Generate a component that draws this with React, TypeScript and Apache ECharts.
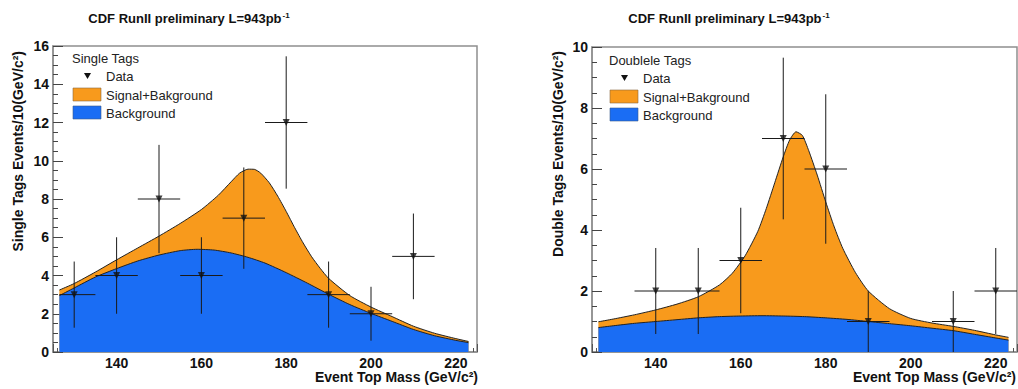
import React, { useEffect, useRef } from "react";
import * as echarts from "echarts";

// ---------- data ----------
const titleText = "CDF RunII preliminary L=943pb";
const xTitle = "Event Top Mass (GeV/c²)";
const leftYTitle = "Single Tags Events/10(GeV/c²)";
const rightYTitle = "Double Tags Events/10(GeV/c²)";
const leftLegendTitle = "Single Tags";
const rightLegendTitle = "Doublele Tags";
const legendNames = ["Data", "Signal+Bakground", "Background"];

const fitStart = 126.5;
const binHalfWidth = 5;

// Single tags: data points
const singleMass = [130, 140, 150, 160, 170, 180, 190, 200, 210];
const singleCounts = [3, 4, 8, 4, 7, 12, 3, 2, 5];
const singleErrLow = [1.27, 2, 5.17, 2, 4.35, 8.54, 1.27, 0.59, 2.76];
const singleErrHigh = [4.73, 6, 10.83, 6, 9.65, 15.46, 4.73, 3.41, 7.24];

// Single tags: curves
const singleSigBkgX = [126.5, 130, 135, 140, 145, 150, 155, 160, 164, 167, 169, 171, 172.5, 174, 176, 178, 180, 182, 184, 186, 188, 190, 195, 200, 205, 210, 215, 220, 223];
const singleSigBkgY = [3.24, 3.58, 4.18, 4.82, 5.44, 6.06, 6.72, 7.45, 8.2, 8.9, 9.35, 9.56, 9.55, 9.35, 8.85, 8.15, 7.35, 6.5, 5.7, 4.98, 4.38, 3.85, 2.95, 2.35, 1.85, 1.35, 0.98, 0.7, 0.55];
const singleBkgX = [126.5, 130, 135, 140, 145, 150, 155, 159, 163, 167, 171, 175, 180, 185, 190, 195, 200, 205, 210, 215, 220, 223];
const singleBkgY = [2.95, 3.35, 3.92, 4.36, 4.76, 5.07, 5.3, 5.37, 5.33, 5.18, 4.95, 4.65, 4.15, 3.6, 3.02, 2.48, 2.02, 1.6, 1.18, 0.85, 0.61, 0.49];

// Double tags: data points
const doubleMass = [140, 150, 160, 170, 180, 190, 210, 220];
const doubleCounts = [2, 2, 3, 7, 6, 1, 1, 2];
const doubleErrLow = [0.59, 0.59, 1.27, 4.35, 3.55, 0, 0, 0.59];
const doubleErrHigh = [3.41, 3.41, 4.73, 9.65, 8.45, 2, 2, 3.41];

// Double tags: curves
const doubleSigBkgX = [126.5, 130, 135, 140, 145, 150, 155, 158, 161, 164, 166, 168, 170, 171.5, 173, 174.5, 176, 178, 180, 182, 184, 187, 190, 195, 200, 205, 210, 215, 220, 223];
const doubleSigBkgY = [0.99, 1.08, 1.22, 1.38, 1.57, 1.81, 2.2, 2.58, 3.15, 3.95, 4.7, 5.55, 6.4, 6.95, 7.22, 7.1, 6.6, 5.8, 4.92, 4.1, 3.4, 2.6, 2.0, 1.42, 1.1, 0.95, 0.84, 0.71, 0.56, 0.48];
const doubleBkgX = [126.5, 130, 135, 140, 145, 150, 155, 160, 165, 170, 175, 180, 185, 190, 195, 200, 205, 210, 215, 220, 223];
const doubleBkgY = [0.8, 0.86, 0.94, 1.0, 1.06, 1.12, 1.16, 1.18, 1.19, 1.18, 1.16, 1.12, 1.07, 1.0, 0.93, 0.86, 0.78, 0.7, 0.58, 0.46, 0.39];

const xMin = 125;
const xMax = 225;
const leftYMax = 16;
const rightYMax = 10;

// ---------- styles ----------
const FONT = "'Liberation Sans', Arial, Helvetica, sans-serif";
const ORANGE = "#F89A1C";
const BLUE = "#1A6DF4";
const FRAME = "#8f8f8f";
const INK = "#111111";

const zip = (xs: number[], ys: number[]) => xs.map((x, i) => [x, ys[i]]);

function errorData(mass: number[], counts: number[], lo: number[], hi: number[]) {
  return mass.map((m, i) => [m, counts[i], lo[i], hi[i], Math.max(m - binHalfWidth, fitStart), m + binHalfWidth]);
}

function makeXAxis(gridIndex: number) {
  return {
    gridIndex,
    type: "value",
    min: xMin,
    max: xMax,
    splitLine: { show: false },
    axisLine: { show: true, onZero: false, lineStyle: { color: FRAME, width: 1.5 } },
    axisTick: { show: true, inside: true, length: 8, lineStyle: { color: "#555" } },
    minorTick: { show: true, splitNumber: 10, length: 4, lineStyle: { color: "#555" } },
    axisLabel: {
      showMinLabel: false,
      showMaxLabel: false,
      margin: 4,
      color: INK,
      fontSize: 14,
      fontWeight: "bold",
      fontFamily: FONT,
    },
  };
}

function makeYAxis(gridIndex: number, max: number) {
  return {
    gridIndex,
    type: "value",
    min: 0,
    max,
    interval: 2,
    splitLine: { show: false },
    axisLine: { show: true, onZero: false, lineStyle: { color: FRAME, width: 1.5 } },
    axisTick: { show: true, inside: true, length: 10, lineStyle: { color: "#444" } },
    minorTick: { show: true, splitNumber: 4, length: 5, lineStyle: { color: "#444" } },
    axisLabel: {
      margin: 4,
      color: INK,
      fontSize: 14,
      fontWeight: "bold",
      fontFamily: FONT,
    },
  };
}

function fillSeries(name: string, idx: number, data: number[][], color: string) {
  return {
    name,
    type: "line",
    xAxisIndex: idx,
    yAxisIndex: idx,
    data,
    smooth: 0.2,
    showSymbol: false,
    symbol: "none",
    lineStyle: { color: "#222", width: 1 },
    areaStyle: { color, opacity: 1 },
    z: 2,
  };
}

function errorSeries(idx: number, data: number[][]) {
  return {
    type: "custom",
    xAxisIndex: idx,
    yAxisIndex: idx,
    data,
    clip: true,
    z: 3,
    encode: { x: 0, y: 1 },
    renderItem: (params: any, api: any) => {
      const x = api.value(0);
      const y = api.value(1);
      const pLo = api.coord([x, api.value(2)]);
      const pHi = api.coord([x, api.value(3)]);
      const pL = api.coord([api.value(4), y]);
      const pR = api.coord([api.value(5), y]);
      const style = { stroke: "#1a1a1a", lineWidth: 1 };
      return {
        type: "group",
        children: [
          { type: "line", shape: { x1: pLo[0], y1: pLo[1], x2: pHi[0], y2: pHi[1] }, style },
          { type: "line", shape: { x1: pL[0], y1: pL[1], x2: pR[0], y2: pR[1] }, style },
        ],
      };
    },
  };
}

function markerSeries(idx: number, data: number[][]) {
  return {
    name: "Data",
    type: "scatter",
    xAxisIndex: idx,
    yAxisIndex: idx,
    data,
    symbol: "triangle",
    symbolRotate: 180,
    symbolSize: 7,
    itemStyle: { color: INK },
    z: 4,
  };
}

function titleGraphic(cx: number) {
  return {
    type: "text",
    x: cx,
    y: 18,
    style: {
      text: `{a|${titleText}}{b|-1}`,
      align: "center",
      verticalAlign: "middle",
      fill: INK,
      rich: {
        a: { fontSize: 13, fontWeight: "bold", fontFamily: FONT, fill: INK },
        b: { fontSize: 8, fontWeight: "bold", fontFamily: FONT, fill: INK, verticalAlign: "top", padding: [0, 0, 6, 1] },
      },
    },
  };
}

function yTitleGraphic(x: number, text: string) {
  return {
    type: "text",
    x,
    y: 51,
    rotation: Math.PI / 2,
    style: {
      text,
      align: "right",
      verticalAlign: "middle",
      fill: INK,
      fontSize: 14,
      fontWeight: "bold",
      fontFamily: FONT,
    },
  };
}

function xTitleGraphic(xRight: number) {
  return {
    type: "text",
    x: xRight,
    y: 377,
    style: {
      text: xTitle,
      align: "right",
      verticalAlign: "middle",
      fill: INK,
      fontSize: 14,
      fontWeight: "bold",
      fontFamily: FONT,
    },
  };
}

function legendGraphics(x0: number, y0: number, title: string) {
  const txt = (x: number, y: number, text: string) => ({
    type: "text",
    x,
    y,
    style: { text, align: "left", verticalAlign: "middle", fill: "#222", fontSize: 13, fontFamily: FONT },
  });
  return [
    txt(x0, y0, title),
    {
      type: "polygon",
      shape: { points: [[x0 + 12, y0 + 15], [x0 + 19, y0 + 15], [x0 + 15.5, y0 + 21]] },
      style: { fill: INK },
    },
    txt(x0 + 34, y0 + 18, legendNames[0]),
    { type: "rect", shape: { x: x0 + 1, y: y0 + 30, width: 28, height: 13 }, style: { fill: ORANGE, stroke: "#8a6a40", lineWidth: 0.6 } },
    txt(x0 + 34, y0 + 37, legendNames[1]),
    { type: "rect", shape: { x: x0 + 1, y: y0 + 48, width: 28, height: 13 }, style: { fill: BLUE, stroke: "#3a5a8a", lineWidth: 0.6 } },
    txt(x0 + 34, y0 + 55, legendNames[2]),
  ];
}

export default function App() {
  const ref = useRef<HTMLDivElement>(null);

  useEffect(() => {
    if (!ref.current) return;
    const chart = echarts.init(ref.current, undefined, { renderer: "svg" });
    const option: any = {
      animation: false,
      backgroundColor: "#ffffff",
      grid: [
        { left: 53, top: 46, width: 424, height: 306, show: true, borderColor: FRAME, borderWidth: 1.5, backgroundColor: "transparent" },
        { left: 592, top: 47, width: 425, height: 305, show: true, borderColor: FRAME, borderWidth: 1.5, backgroundColor: "transparent" },
      ],
      xAxis: [makeXAxis(0), makeXAxis(1)],
      yAxis: [makeYAxis(0, leftYMax), makeYAxis(1, rightYMax)],
      series: [
        fillSeries(legendNames[1], 0, zip(singleSigBkgX, singleSigBkgY), ORANGE),
        fillSeries(legendNames[2], 0, zip(singleBkgX, singleBkgY), BLUE),
        errorSeries(0, errorData(singleMass, singleCounts, singleErrLow, singleErrHigh)),
        markerSeries(0, zip(singleMass, singleCounts)),
        fillSeries(legendNames[1], 1, zip(doubleSigBkgX, doubleSigBkgY), ORANGE),
        fillSeries(legendNames[2], 1, zip(doubleBkgX, doubleBkgY), BLUE),
        errorSeries(1, errorData(doubleMass, doubleCounts, doubleErrLow, doubleErrHigh)),
        markerSeries(1, zip(doubleMass, doubleCounts)),
      ],
      graphic: [
        titleGraphic(189),
        titleGraphic(729),
        yTitleGraphic(18, leftYTitle),
        yTitleGraphic(558, rightYTitle),
        xTitleGraphic(478),
        xTitleGraphic(1016),
        ...legendGraphics(72, 58, leftLegendTitle),
        ...legendGraphics(609, 60, rightLegendTitle),
      ],
    };
    chart.setOption(option);
    return () => chart.dispose();
  }, []);

  return (
    <div
      ref={ref}
      style={{ position: "fixed", left: 0, top: 0, width: 1018, height: 389, background: "#fff" }}
    />
  );
}
